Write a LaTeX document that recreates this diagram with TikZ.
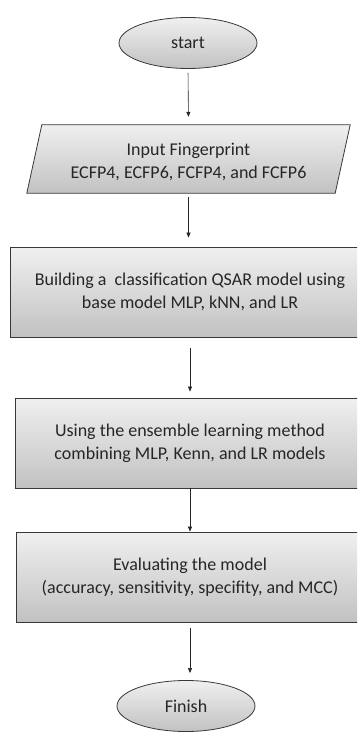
\documentclass[tikz,border=0pt]{standalone}
\usepackage{fontspec}
\setmainfont{Carlito}
\usetikzlibrary{shapes.geometric,arrows.meta}
\begin{document}
\begin{tikzpicture}[x=1pt,y=1pt,
  txt/.style={font=\fontsize{18}{23}\selectfont, text=black!85, align=center},
  fillgrad/.style={draw=black!78, line width=0.8pt, top color=black!6, bottom color=black!24},
  terminal/.style={ellipse, fillgrad, txt, minimum width=138pt, minimum height=51pt, inner sep=0pt},
  stepbox/.style={rectangle, fillgrad, txt, minimum height=90pt, inner sep=0pt},
  ioframe/.style={rectangle, minimum width=323pt, minimum height=68pt, inner sep=0pt},
  arr/.style={-{Triangle[length=5pt,width=4pt]}, line width=0.6pt, black!85}
]
\useasboundingbox (0,0) rectangle (357,-733);
\clip (0,0) rectangle (357,-733);

% terminals
\node[terminal] (start) at (188,-43) {start};
\node[terminal] (finish) at (186,-706) {Finish};

% input/output parallelogram
\node[ioframe] (input) at (188.5,-159) {};
\path[fillgrad] ([xshift=15pt]input.north west) -- (input.north east)
  -- ([xshift=-15pt]input.south east) -- (input.south west) -- cycle;
\node[txt] (inputtxt) at ([yshift=-3pt]input.center) {Input Fingerprint\\ECFP4, ECFP6, FCFP4, and FCFP6};

% process steps
\node[stepbox, minimum width=360pt] (build) at (190,-292)
  {Building a\ \ classification QSAR model using\\base model MLP, kNN, and LR};
\node[stepbox, minimum width=350pt] (ensemble) at (190,-443)
  {Using the ensemble learning method\\combining MLP, Kenn, and LR models};
\node[stepbox, minimum width=348pt] (evaluate) at (190,-577)
  {Evaluating the model\\(accuracy, sensitivity, specifity, and MCC)};

% flow
\draw[arr, shorten <=4pt, shorten >=8pt] (start.south) -- (input.north);
\draw[arr, shorten <=4pt, shorten >=9pt] (input.south) -- (input.south |- build.north);
\draw[arr, shorten <=11pt, shorten >=6pt] (build.south) -- (ensemble.north);
\draw[arr] (ensemble.south) -- (evaluate.north);
\draw[arr, shorten <=6pt, shorten >=7pt] (evaluate.south) -- (evaluate.south |- finish.north);
\end{tikzpicture}
\end{document}
